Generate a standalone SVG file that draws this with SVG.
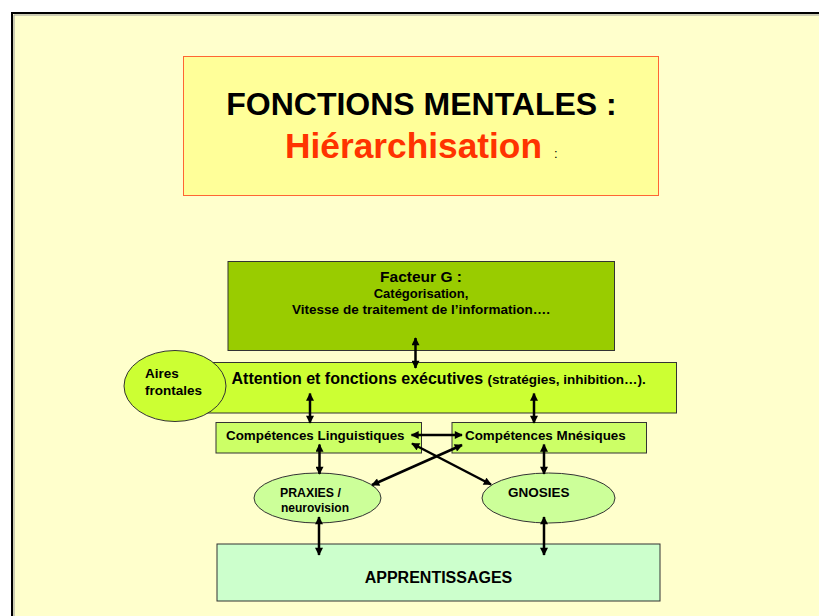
<svg xmlns="http://www.w3.org/2000/svg" width="819" height="616" viewBox="0 0 819 616">
<defs>
<style>
text{font-family:"Liberation Sans",Arial,sans-serif;font-weight:bold;fill:#000}
.box{stroke:#333;stroke-width:1}
.ell{stroke:#333;stroke-width:1}
.arr{stroke:#000;stroke-width:2.5;fill:none;marker-start:url(#ah);marker-end:url(#ah)}
</style>
<marker id="ah" viewBox="0 0 10 10" refX="9" refY="5" markerWidth="9" markerHeight="8" markerUnits="userSpaceOnUse" orient="auto-start-reverse">
<path d="M0,0 L10,5 L0,10 z" fill="#000"/>
</marker>
</defs>
<rect x="0" y="0" width="819" height="616" fill="#fff"/>
<rect x="12" y="13" width="820" height="620" fill="#FFFFCC" stroke="#000" stroke-width="2"/>
<path d="M14,616 V15 H819" fill="none" stroke="#999" stroke-width="1"/>

<g id="title">
<rect x="183.5" y="56.5" width="475" height="139" fill="#FFFF99" stroke="#FF6633" stroke-width="1"/>
<text x="421.5" y="115" font-size="32" text-anchor="middle">FONCTIONS MENTALES :</text>
<text x="285" y="158" font-size="35.3" style="fill:#FF3300">Hiérarchisation</text>
<text x="554" y="158" font-size="13" style="font-weight:normal">:</text>
</g>

<g id="facteur">
<rect class="box" x="228" y="261.5" width="386.5" height="89" fill="#99CC00"/>
<text x="421" y="282" font-size="15.5" text-anchor="middle">Facteur G :</text>
<text x="421" y="298" font-size="13" text-anchor="middle">Catégorisation,</text>
<text x="421" y="314" font-size="13.5" text-anchor="middle">Vitesse de traitement de l’information….</text>
</g>

<g id="attention">
<rect class="box" x="200" y="362.5" width="476.5" height="50.5" fill="#CCFF33"/>
<text x="231.5" y="384" font-size="16">Attention et fonctions exécutives <tspan font-size="13.5">(stratégies, inhibition…).</tspan></text>
</g>

<g id="aires">
<ellipse class="ell" cx="175" cy="386" rx="51" ry="35.5" fill="#CCFF33" stroke="#000"/>
<text x="145" y="378" font-size="13.5">Aires</text>
<text x="145" y="395" font-size="13.5">frontales</text>
</g>

<g id="linguistiques">
<rect class="box" x="216" y="422.5" width="205.5" height="30.5" fill="#CCFF66"/>
<text x="226" y="440" font-size="13.4">Compétences Linguistiques</text>
</g>

<g id="mnesiques">
<rect class="box" x="452" y="422.5" width="194.5" height="30.5" fill="#CCFF66"/>
<text x="465" y="440" font-size="13.4">Compétences Mnésiques</text>
</g>

<g id="praxies">
<ellipse class="ell" cx="317.5" cy="498" rx="63.5" ry="25" fill="#CCFF99"/>
<text x="280" y="497" font-size="12.3">PRAXIES /</text>
<text x="281" y="512" font-size="12">neurovision</text>
</g>

<g id="gnosies">
<ellipse class="ell" cx="548.5" cy="498" rx="66.5" ry="25" fill="#CCFF99"/>
<text x="508" y="497" font-size="13.5">GNOSIES</text>
</g>

<g id="apprentissages">
<rect class="box" x="217" y="544" width="443" height="57" fill="#CCFFCC"/>
<text x="438.5" y="583" font-size="16" text-anchor="middle">APPRENTISSAGES</text>
</g>

<g id="connectors">
<line class="arr" x1="415.5" y1="338" x2="415.5" y2="368"/>
<line class="arr" x1="310" y1="393.5" x2="310" y2="423"/>
<line class="arr" x1="534" y1="393.5" x2="534" y2="423"/>
<line class="arr" x1="411.5" y1="435" x2="462" y2="435"/>
<line class="arr" x1="319.5" y1="444.5" x2="319.5" y2="474"/>
<line class="arr" x1="544" y1="444.5" x2="544" y2="474"/>
<line class="arr" x1="412" y1="443.5" x2="491" y2="484.5"/>
<line class="arr" x1="462" y1="445" x2="372" y2="485"/>
<line class="arr" x1="319" y1="517" x2="319" y2="555"/>
<line class="arr" x1="544" y1="517" x2="544" y2="555"/>
</g>
</svg>
